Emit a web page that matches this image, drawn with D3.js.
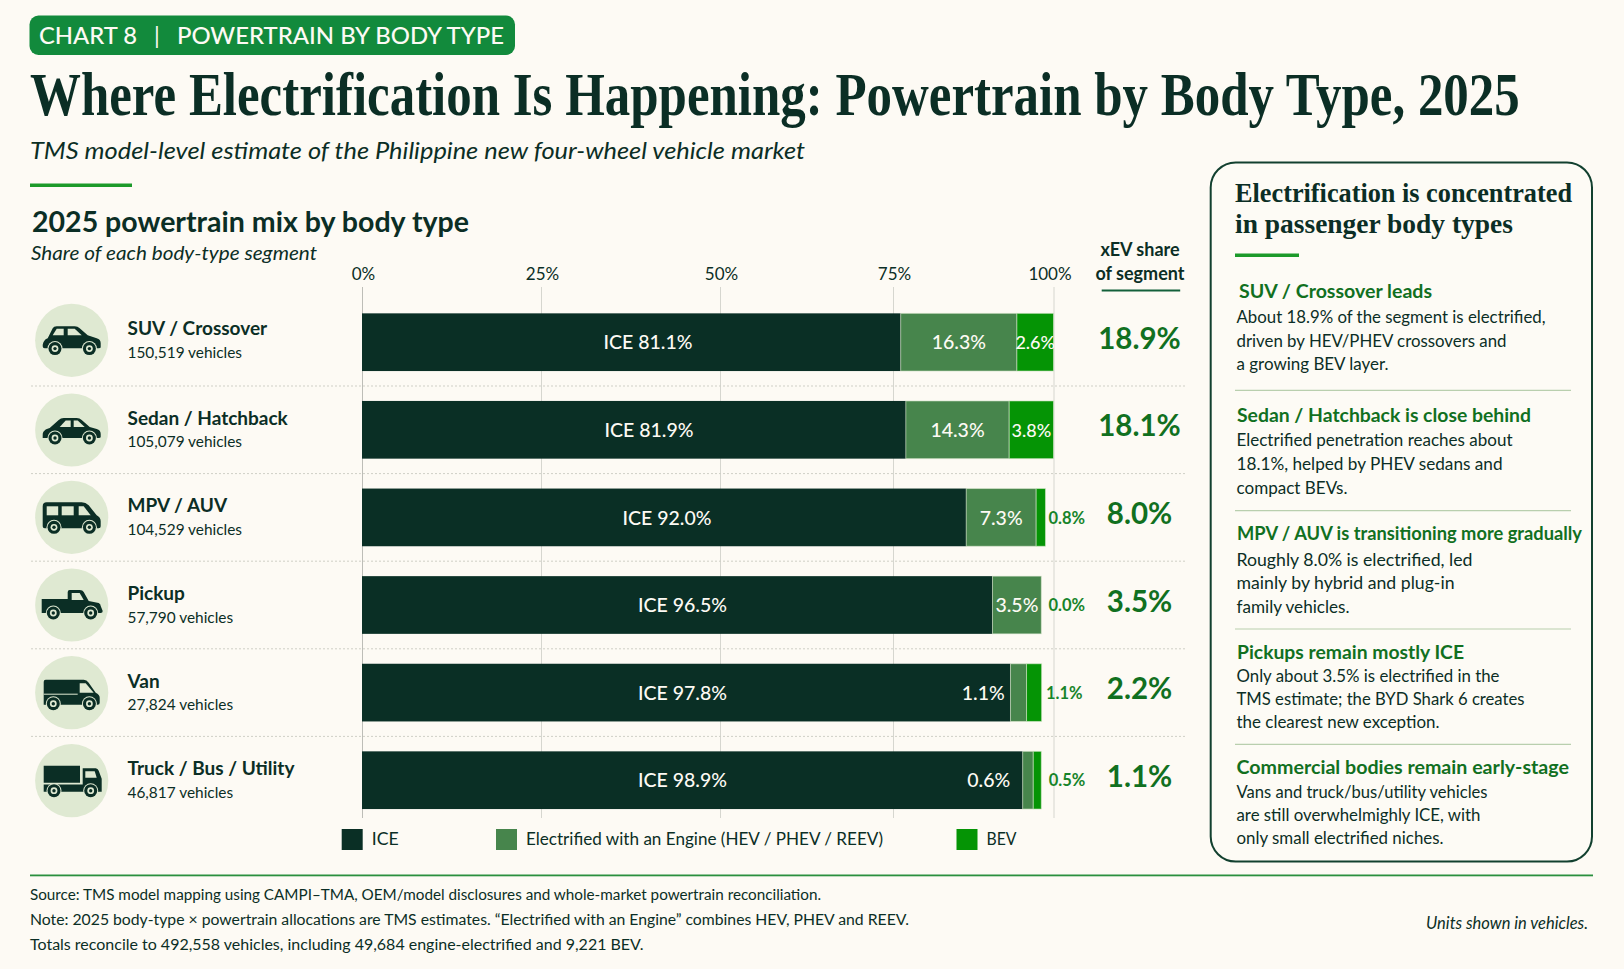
<!DOCTYPE html>
<html>
<head>
<meta charset="utf-8">
<title>Powertrain by Body Type</title>
<script src="https://cdn.jsdelivr.net/npm/d3@7"></script>
<style>
  html, body { margin: 0; padding: 0; background: #fdfaf4; }
  svg { display: block; }
  text { font-family: Lato, "Open Sans", sans-serif; }
</style>
</head>
<body>
<div id="chart"></div>
<script>
// chart values
const categories = ['SUV / Crossover', 'Sedan / Hatchback', 'MPV / AUV', 'Pickup', 'Van', 'Truck / Bus / Utility'];
const vehicleCounts = ['150,519', '105,079', '104,529', '57,790', '27,824', '46,817'];
const iceShare = [81.1, 81.9, 92.0, 96.5, 97.8, 98.9];
const engineShare = [16.3, 14.3, 7.3, 3.5, 1.1, 0.6];
const bevShare = [2.6, 3.8, 0.8, 0.0, 1.1, 0.5];
const xevShare = [18.9, 18.1, 8.0, 3.5, 2.2, 1.1];

// the reference does not draw its bars to the printed shares, so these are the
// segment lengths as measured against its own axis (the labels above stay as printed)
const iceDrawn = [76.2, 77.0, 86.4, 90.5, 93.3, 95.2];
const engineDrawn = [18.1, 16.1, 10.9, 7.6, 2.5, 1.65];
const bevDrawn = [5.7, 6.9, 1.45, 0, 2.35, 1.25];

const tickValues = [0, 25, 50, 75, 100];
const seriesKeys = ['ice', 'engine', 'bev'];
const seriesLabels = ['ICE', 'Electrified with an Engine (HEV / PHEV / REEV)', 'BEV'];

const noteHeads = ['SUV / Crossover leads', 'Sedan / Hatchback is close behind', 'MPV / AUV is transitioning more gradually', 'Pickups remain mostly ICE', 'Commercial bodies remain early-stage'];
const noteLines = [
    ['About 18.9% of the segment is electrified,', 'driven by HEV/PHEV crossovers and', 'a growing BEV layer.'],
    ['Electrified penetration reaches about', '18.1%, helped by PHEV sedans and', 'compact BEVs.'],
    ['Roughly 8.0% is electrified, led', 'mainly by hybrid and plug-in', 'family vehicles.'],
    ['Only about 3.5% is electrified in the', 'TMS estimate; the BYD Shark 6 creates', 'the clearest new exception.'],
    ['Vans and truck/bus/utility vehicles', 'are still overwhelmighly ICE, with', 'only small electrified niches.']
];
const footnotes = [
    'Source: TMS model mapping using CAMPI\u2013TMA, OEM/model disclosures and whole-market powertrain reconciliation.',
    'Note: 2025 body-type \u00d7 powertrain allocations are TMS estimates. \u201cElectrified with an Engine\u201d combines HEV, PHEV and REEV.',
    'Totals reconcile to 492,558 vehicles, including 49,684 engine-electrified and 9,221 BEV.'
];

// colours
const DARK = '#0b2e25';
const GREEN_TEXT = '#11701f';
const ACCENT = '#1c9a2a';
const ICON_BG = '#dfe9d2';
const color = d3.scaleOrdinal().domain(seriesKeys).range(['#0a2f25', '#47854c', '#059405']);

const width = 1624, height = 969;
const svg = d3.create('svg').attr('width', width).attr('height', height);
document.getElementById('chart').appendChild(svg.node());
svg.append('rect').attr('width', width).attr('height', height).attr('fill', '#fdfaf4');

// text helper, width pins the rendered length to the reference
function put(parent, str, x, y, size, opts = {}) {
    const t = parent.append('text')
        .attr('x', x).attr('y', y)
        .attr('font-size', size)
        .attr('fill', opts.fill || DARK)
        .text(str);
    if (opts.weight) t.attr('font-weight', opts.weight);
    if (opts.italic) t.attr('font-style', 'italic');
    if (opts.family) t.style('font-family', opts.family);
    if (opts.anchor) t.attr('text-anchor', opts.anchor);
    if (opts.width) t.attr('textLength', opts.width).attr('lengthAdjust', 'spacingAndGlyphs');
    return t;
}

// header
svg.append('rect').attr('x', 29.5).attr('y', 15.5).attr('width', 485.5).attr('height', 39.5).attr('rx', 9).attr('fill', '#128a3c');
put(svg, 'CHART 8', 39, 43.5, 23, { fill: '#fdfaf4', weight: 500, width: 98 });
put(svg, '|', 154, 43.5, 23, { fill: '#fdfaf4' });
put(svg, 'POWERTRAIN BY BODY TYPE', 177, 43.5, 23, { fill: '#fdfaf4', weight: 500, width: 327 });

// title is wider than the page at full size, so it is squeezed with a transform
const title = put(svg, 'Where Electrification Is Happening: Powertrain by Body Type, 2025', 0, 0, 61,
    { family: '"Liberation Serif", serif', weight: 700 });
title.attr('transform', `translate(30,115) scale(${1490 / title.node().getComputedTextLength()},1)`);

put(svg, 'TMS model-level estimate of the Philippine new four-wheel vehicle market', 30, 159, 24, { italic: true, width: 775 });
svg.append('rect').attr('x', 30).attr('y', 183.5).attr('width', 102).attr('height', 3.5).attr('fill', ACCENT);
put(svg, '2025 powertrain mix by body type', 32, 231.5, 28, { weight: 700, width: 437 });
put(svg, 'Share of each body-type segment', 31, 259.5, 19, { italic: true, width: 286 });

// scales, the axis spacing in the reference is uneven so the x scale is piecewise
const x = d3.scaleLinear().domain(tickValues).range([362, 541, 720, 893, 1053.5]);
const y = d3.scalePoint().domain(categories).range([342.2, 780.2]);
const rowStep = y.step();
const barH = 57.7;

// axis + gridlines
const axis = svg.append('g')
    .attr('transform', 'translate(0,287)')
    .call(d3.axisTop(x).tickValues(tickValues).tickFormat(d => d + '%').tickSize(-531).tickPadding(7.5));
axis.select('.domain').remove();
axis.selectAll('.tick line').attr('stroke', (d, i) => i === 0 ? '#bdbdb7' : '#d6d6cf');
axis.selectAll('.tick text')
    .attr('font-size', 17).attr('fill', DARK)
    .style('font-family', 'Lato, sans-serif')
    .attr('dx', d => d === 100 ? -4 : 1);

// row dividers
svg.append('g').selectAll('line')
    .data(categories.slice(0, -1))
    .join('line')
    .attr('x1', 31).attr('x2', 1187)
    .attr('y1', d => y(d) + rowStep / 2).attr('y2', d => y(d) + rowStep / 2)
    .attr('stroke', '#cfcfc6').attr('stroke-width', 1).attr('stroke-dasharray', '2 2');

// stacked bars
const table = categories.map((c, i) => ({ category: c, ice: iceDrawn[i], engine: engineDrawn[i], bev: bevDrawn[i] }));
const stacked = d3.stack().keys(seriesKeys)(table);
svg.append('g').selectAll('g')
    .data(stacked)
    .join('g')
    .attr('fill', d => color(d.key))
    .selectAll('rect')
    .data(d => d.map(s => ({ s, key: d.key })))
    .join('rect')
    .attr('x', d => x(d.s[0]))
    .attr('y', d => y(d.s.data.category) - barH / 2)
    .attr('width', d => x(d.s[1]) - x(d.s[0]))
    .attr('height', barH)
    .attr('stroke', d => d.key === 'ice' ? 'none' : '#dfe9d2')
    .attr('stroke-opacity', 0.55)
    .attr('stroke-width', 1);

// bar labels. Label placement from the reference, the ICE labels do not sit at the segment centre
const iceLabelX = [648, 649, 667, 682.5, 682.5, 682.5];
const innerEngineX = { Van: 983.3, 'Truck / Bus / Utility': 988.7 };
const outsideBevX = { 'MPV / AUV': 1066.7, Pickup: 1066.7, Van: 1064.3, 'Truck / Bus / Utility': 1067 };
const labels = svg.append('g').attr('text-anchor', 'middle');
categories.forEach((c, i) => {
    const base = y(c) + 7.2;
    const iceEnd = x(iceDrawn[i]);
    const engineEnd = x(iceDrawn[i] + engineDrawn[i]);
    const bevEnd = x(iceDrawn[i] + engineDrawn[i] + bevDrawn[i]);
    put(labels, `ICE ${iceShare[i].toFixed(1)}%`, iceLabelX[i], base, 19.5, { fill: '#fdfaf4', weight: 500 });
    put(labels, `${engineShare[i].toFixed(1)}%`, innerEngineX[c] || (iceEnd + engineEnd) / 2, base, 19.5, { fill: '#fdfaf4', weight: 500 });
    const bevText = `${bevShare[i].toFixed(1)}%`;
    if (bevEnd - engineEnd > 30) put(labels, bevText, (engineEnd + bevEnd) / 2, base, 18, { fill: '#fdfaf4', weight: 500 });
    else put(labels, bevText, outsideBevX[c], base - 1, 16.5, { fill: '#17842a', weight: 700 });
    put(labels, `${xevShare[i].toFixed(1)}%`, 1139.5, y(c) + 6.5, 29.5, { fill: GREEN_TEXT, weight: 700 });
});

// xEV column head
put(svg, 'xEV share', 1140, 256, 18, { anchor: 'middle', weight: 700 });
put(svg, 'of segment', 1140, 279.5, 18, { anchor: 'middle', weight: 700 });
svg.append('rect').attr('x', 1101.7).attr('y', 289.5).attr('width', 78.5).attr('height', 2).attr('fill', '#13603a');

// body type icons, one small set of shapes per row, local coords around circle centre
const iconY = [340.3, 430, 517.3, 605, 692.7, 780.7];
const icons = [
    { body: 'M-29,6 C-29,2 -27,-1 -24,-2 L-19,-12 Q-18,-14 -15,-14 L3,-14 Q6,-14 8,-12 L16,-5 L25,-2 Q29,-1 29,3 L29,7 Q29,8 27,8 L-27,8 Q-29,8 -29,6Z',
      win: ['M-19,-5 L-15,-11.5 L-8,-11.5 L-8,-5Z', 'M-4,-11.5 L3,-11.5 L10,-5 L-4,-5Z'], wheels: [-16.7, 17.7], wy: 8.3 },
    { body: 'M-29,5 C-29,1 -26,-1 -22,-2 L-13,-10 Q-11,-12 -8,-12 L5,-12 Q8,-12 10,-10 L18,-3 L25,-1 Q29,0 29,4 L29,7 Q29,8 27,8 L-29,8Z',
      win: ['M-12,-3 L-6,-9.5 L-1,-9.5 L-1,-3Z', 'M2,-9.5 L6,-9.5 L13,-3 L2,-3Z'], wheels: [-16.7, 17.7], wy: 8 },
    { body: 'M-29,-11 Q-29,-15 -25,-15 L10,-15 Q14,-15 17,-12 L25,-2 Q29,0 29,4 L29,9 Q29,11 27,11 L-27,11 Q-29,11 -29,9Z',
      win: ['M-25,-11 L-13.5,-11 L-13.5,-2 L-25,-2Z', 'M-10,-11 L2,-11 L2,-2 L-10,-2Z', 'M7,-11 L12,-11 L19,-2 L7,-2Z'], wheels: [-17.7, 17.7], wy: 10 },
    { body: 'M-30,-6 L-4,-6 L-4,-13 Q-4,-15 -2,-15 L8,-15 Q11,-15 12,-13 L17,-4 L27,-2 Q29,-1 29,1 L31,6 Q31,8 29,8 L-30,8Z',
      win: ['M0,-12 L8,-12 L12,-5 L0,-5Z'], wheels: [-18.4, 19], wy: 8 },
    { body: 'M-26,-13 L12,-13 Q15,-13 17,-10 L24,0 Q28,2 28,5 L28,10 Q28,12 26,12 L-28,12 L-28,-11 Q-28,-13 -26,-13Z',
      win: ['M8,-9.5 L14,-9.5 L22,0 L8,0Z'], stripe: 'M-28,1.5 L6,1.5', wheels: [-18.4, 17.7], wy: 11 },
    { body: 'M-28,-15 L8.3,-15 L8.3,2 L-28,2Z M-28,3.7 L11,3.7 L11,-12.5 L24,-12.5 Q26,-12.5 27,-10 L30,-2 L30,11 L-28,11Z',
      win: ['M13.6,-9.5 L23,-9.5 L25,-3 L13.6,-3Z'], wheels: [-17.7, 19], wy: 10 }
];
const iconRows = svg.append('g').selectAll('g')
    .data(categories)
    .join('g')
    .attr('transform', (d, i) => `translate(71.7,${iconY[i]})`);
iconRows.append('circle').attr('r', 36.6).attr('fill', ICON_BG);
iconRows.each(function(d, i) {
    const g = d3.select(this), ic = icons[i];
    g.append('path').attr('d', ic.body).attr('fill', DARK);
    ic.win.forEach(w => g.append('path').attr('d', w).attr('fill', ICON_BG));
    if (ic.stripe) g.append('path').attr('d', ic.stripe).attr('stroke', ICON_BG).attr('stroke-width', 1);
    ic.wheels.forEach(cx => {
        g.append('circle').attr('cx', cx).attr('cy', ic.wy).attr('r', 7.5).attr('fill', ICON_BG);
        g.append('circle').attr('cx', cx).attr('cy', ic.wy).attr('r', 6.5).attr('fill', DARK);
        g.append('circle').attr('cx', cx).attr('cy', ic.wy).attr('r', 3.4).attr('fill', ICON_BG);
        g.append('circle').attr('cx', cx).attr('cy', ic.wy).attr('r', 1.7).attr('fill', DARK);
    });
});

// row names
categories.forEach((c, i) => {
    put(svg, c, 127.5, y(c) - (i === 0 ? 7 : 5), 19, { weight: 700 });
    put(svg, `${vehicleCounts[i]} vehicles`, 127.5, y(c) + (i === 0 ? 16 : 17.6), 15.4);
});

// legend
const legendX = [341.7, 496, 956.5];
const legendW = [27, 357, 30];
const legend = svg.append('g').selectAll('g').data(seriesKeys).join('g');
legend.append('rect')
    .attr('x', (d, i) => legendX[i]).attr('y', 829)
    .attr('width', 21).attr('height', 21)
    .attr('fill', d => color(d));
legend.each(function(d, i) {
    put(d3.select(this), seriesLabels[i], legendX[i] + 30, 845, 17.5, { width: legendW[i] });
});

// side panel
svg.append('rect').attr('x', 1210.7).attr('y', 162.5).attr('width', 381.3).attr('height', 699)
    .attr('rx', 25).attr('fill', '#fdfbf5').attr('stroke', '#12402f').attr('stroke-width', 2);
put(svg, 'Electrification is concentrated', 1235, 201.7, 28, { family: '"Liberation Serif", serif', weight: 700, width: 337 });
put(svg, 'in passenger body types', 1235, 233.3, 28, { family: '"Liberation Serif", serif', weight: 700, width: 278 });
svg.append('rect').attr('x', 1235).attr('y', 253.5).attr('width', 64).attr('height', 3.5).attr('fill', ACCENT);

const headBase = [298.3, 421.7, 540, 659, 774];
const headX = [1239, 1237, 1237, 1237, 1236.5];
const headW = [193, 294, 345, 227, 332.5];
const lineBase = [[323.3, 346.7, 370], [446, 470, 494], [565.7, 589, 613], [681.7, 705, 728.3], [797.7, 821, 844.3]];
const lineW = [[309, 270, 152], [276, 266, 111], [236, 218, 113], [263, 288, 203], [251, 244, 207]];
const sepY = [390.3, 510.7, 629, 744.3];
noteHeads.forEach((h, i) => {
    put(svg, h, headX[i], headBase[i], 19, { fill: GREEN_TEXT, weight: 700, width: headW[i] });
    noteLines[i].forEach((l, j) => {
        put(svg, l, 1236.5, lineBase[i][j], 17, { width: lineW[i][j] });
    });
});
svg.append('g').selectAll('line').data(sepY).join('line')
    .attr('x1', 1235).attr('x2', 1571).attr('y1', d => d).attr('y2', d => d)
    .attr('stroke', '#b9cfae').attr('stroke-width', 1.2);

// footer
svg.append('rect').attr('x', 30).attr('y', 874.5).attr('width', 1563).attr('height', 1.8).attr('fill', '#2a8f3e');
const footBase = [900, 925, 950];
const footW = [791, 879, 613.5];
footnotes.forEach((f, i) => put(svg, f, 30, footBase[i], 15.5, { width: footW[i] }));
put(svg, 'Units shown in vehicles.', 1588, 929, 16.5, { italic: true, anchor: 'end' });
</script>
</body>
</html>
